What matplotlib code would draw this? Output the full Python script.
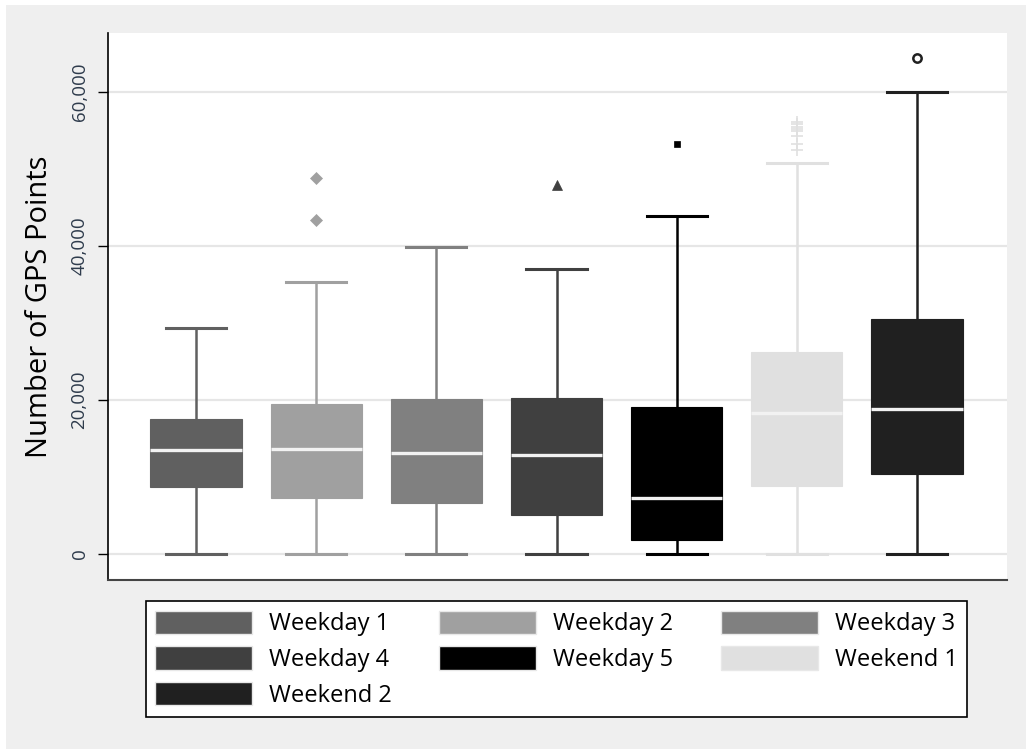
import matplotlib
matplotlib.use("Agg")
import matplotlib.pyplot as plt
from matplotlib.patches import Patch, Rectangle
from matplotlib.ticker import FuncFormatter

plt.rcParams['font.family'] = ['Open Sans', 'DejaVu Sans']

# box plot statistics
groups = ['Weekday 1', 'Weekday 2', 'Weekday 3', 'Weekday 4',
          'Weekday 5', 'Weekend 1', 'Weekend 2']
colors = ['#606060', '#a0a0a0', '#808080', '#404040',
          '#000000', '#e0e0e0', '#202020']
whislo = [0, 0, 0, 0, 0, 0, 0]
q1 = [8700, 7300, 6600, 5100, 1800, 8800, 10400]
med = [13500, 13650, 13150, 12850, 7300, 18300, 18850]
q3 = [17550, 19500, 20150, 20250, 19100, 26250, 30550]
whishi = [29400, 35350, 39850, 37000, 43900, 50800, 60000]
fliers = [[], [43400, 48850], [], [47950], [53250],
          [52500, 53300, 54300, 54900, 55200, 55500, 55800, 56100], [64400]]
flier_markers = ['o', 'D', 'o', '^', 's', '+', 'o']
flier_sizes = [6, 6, 6, 7, 4.5, 9, 6]

fig = plt.figure(figsize=(10.26, 7.49), dpi=100, facecolor='white')
fig.patches.append(Rectangle((6 / 1026, 0), 1 - 6 / 1026, 744 / 749,
                             transform=fig.transFigure, facecolor='#efefef',
                             edgecolor='none', zorder=-5))

ax = fig.add_axes([0.1053, 0.2256, 0.8762, 0.7303])
ax.set_facecolor('white')

stats = []
for i in range(len(groups)):
    stats.append(dict(med=med[i], q1=q1[i], q3=q3[i], whislo=whislo[i],
                      whishi=whishi[i], fliers=fliers[i], label=groups[i]))

for i, s in enumerate(stats):
    c = colors[i]
    ax.bxp([s], positions=[i + 1], widths=0.76, capwidths=0.5,
           patch_artist=True, showfliers=True,
           boxprops=dict(facecolor=c, edgecolor=c, linewidth=0.8),
           medianprops=dict(color='#f2f2f2', linewidth=2.4),
           whiskerprops=dict(color=c, linewidth=1.8),
           capprops=dict(color=c, linewidth=2.2),
           flierprops=dict(marker=flier_markers[i],
                           markerfacecolor='white' if i == 6 else c,
                           markeredgecolor=c,
                           markersize=flier_sizes[i],
                           markeredgewidth={5: 1.2, 6: 1.8}.get(i, 0.5)),
           zorder=3)

ax.set_xlim(0.267, 7.75)
ax.set_ylim(-3377, 67662)
ax.set_yticks([0, 20000, 40000, 60000])
ax.yaxis.set_major_formatter(FuncFormatter(lambda v, p: f'{int(v):,}'))
ax.set_xticks([])
ax.tick_params(axis='y', length=7, width=1, color='black', pad=7,
               labelsize=13.5, labelcolor='#2e3b4c', labelrotation=90)
for lab in ax.get_yticklabels():
    lab.set_verticalalignment('center')
ax.grid(axis='y', color='#e6e6e6', linewidth=1.6, zorder=0)
ax.set_axisbelow(True)

ax.spines['top'].set_visible(False)
ax.spines['right'].set_visible(False)
ax.spines['left'].set_color('black')
ax.spines['left'].set_linewidth(1.2)
ax.spines['bottom'].set_color('#444444')
ax.spines['bottom'].set_linewidth(1.5)

ax.set_ylabel('Number of GPS Points', fontsize=21, labelpad=12)

# legend is filled row by row in the reference; matplotlib fills columns
order = [0, 3, 6, 1, 4, 2, 5]
handles = [Patch(facecolor=colors[k], edgecolor='#e8e8e8', label=groups[k])
           for k in order]
leg = fig.legend(handles=handles, ncol=3, loc='lower left',
                 bbox_to_anchor=(0.1423, 0.0427, 0.8002, 0.1602),
                 mode='expand', borderaxespad=0, fontsize=17,
                 handlelength=4.1, handleheight=1.15, handletextpad=0.72,
                 labelspacing=0.42, borderpad=0.4, fancybox=False,
                 framealpha=1, edgecolor='black')
leg.get_frame().set_linewidth(1.2)

fig.savefig('out.png', dpi=100, facecolor=fig.get_facecolor())
